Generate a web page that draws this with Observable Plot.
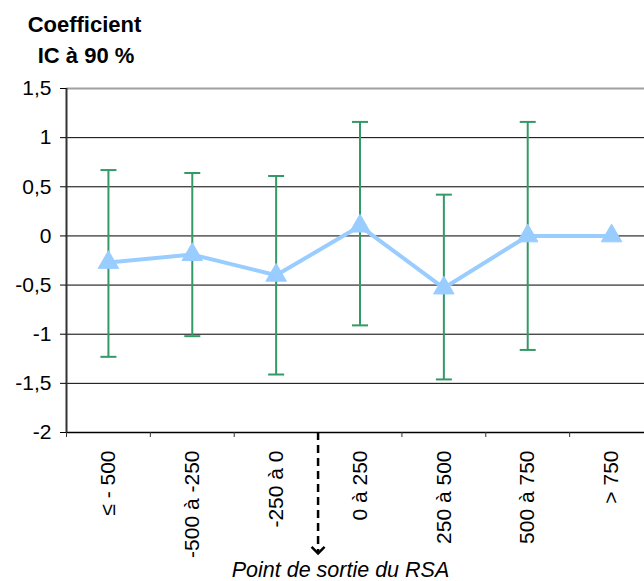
<!DOCTYPE html>
<html>
<head>
<meta charset="utf-8">
<script src="https://cdn.jsdelivr.net/npm/d3@7"></script>
<script src="https://cdn.jsdelivr.net/npm/@observablehq/plot@0.6"></script>
<style>
  html, body { margin: 0; padding: 0; background: #fff; overflow: hidden; }
  #chart { width: 644px; height: 581px; overflow: hidden; }
</style>
</head>
<body>
<div id="chart"></div>
<script>
// ---- data ----
const categories = ["≤ - 500", "-500 à -250", "-250 à 0", "0 à 250", "250 à 500", "500 à 750", "> 750"];
const coef   = [-0.27, -0.19, -0.40, 0.10, -0.53, 0.00, 0.00];
const ciLow  = [-1.23, -1.02, -1.41, -0.91, -1.46, -1.16, 0.00];
const ciHigh = [ 0.67,  0.64,  0.61,  1.16,  0.42,  1.16, 0.00];
const yTicks = [-2, -1.5, -1, -0.5, 0, 0.5, 1, 1.5];
const titleLines = ["Coefficient", "IC à 90 %"];
const caption = "Point de sortie du RSA";
const exitBoundary = 3; // boundary between "-250 à 0" and "0 à 250"
const arrowEnd = -3.23;

// table built from arrays
const data = categories.map((c, i) => ({cat: c, pos: i + 0.5, coef: coef[i], lo: ciLow[i], hi: ciHigh[i]}));
const boundaries = d3.range(categories.length + 1);

const fmt = d => String(d).replace(".", ",");

const capSymbol = {
  draw(ctx, size) { const w = Math.sqrt(size / Math.PI); ctx.moveTo(-w, 0); ctx.lineTo(w, 0); }
};
const chevron = {
  draw(ctx, size) { const w = Math.sqrt(size / Math.PI); ctx.moveTo(-w, -w); ctx.lineTo(0, 0); ctx.lineTo(w, -w); }
};

const font = "'Liberation Sans', Arial, sans-serif";

const chart = Plot.plot({
  width: 644,
  height: 581,
  marginTop: 88,
  marginBottom: 149,
  marginLeft: 66,
  marginRight: 0,
  style: {fontFamily: font, fontSize: "20px", color: "#000", background: "#fff", overflow: "visible"},
  x: {domain: [0, categories.length], range: [66, 653], axis: null},
  y: {domain: [-2, 1.5], axis: null},
  marks: [
    // gridlines
    Plot.ruleY(yTicks.filter(d => d > -2 && d < 1.5), {x1: 0, x2: categories.length, stroke: "#000", strokeWidth: 1}),
    Plot.ruleY([1.5], {x1: 0, x2: categories.length, stroke: "#a0a0a0", strokeWidth: 2}),
    Plot.ruleY([-2], {x1: 0, x2: categories.length, stroke: "#000", strokeWidth: 1.5}),
    // y axis line
    Plot.ruleX([0], {y1: -2, y2: 1.5, stroke: "#333", strokeWidth: 2}),
    // y axis ticks
    Plot.axisY({ticks: yTicks, tickSize: 6, tickFormat: () => "", stroke: "#000", anchor: "left", label: null}),
    // y tick labels
    Plot.text(yTicks, {y: d => d, text: fmt, frameAnchor: "left", dx: -15, textAnchor: "end", lineAnchor: "middle", fontSize: 21, fill: "#000"}),
    // x axis ticks at boundaries
    Plot.axisX({ticks: boundaries, tickSize: 5, tickFormat: () => "", anchor: "bottom", stroke: "#333", label: null}),
    // x labels at category centers
    Plot.text(data, {x: "pos", text: "cat", frameAnchor: "bottom", dy: 18, rotate: -90, textAnchor: "end", lineAnchor: "middle", fontSize: 21, fill: "#000"}),
    // error bars
    Plot.ruleX(data, {x: "pos", y1: "lo", y2: "hi", stroke: "#339966", strokeWidth: 2}),
    Plot.dot(data, {x: "pos", y: "lo", symbol: capSymbol, r: 8, stroke: "#339966", strokeWidth: 2}),
    Plot.dot(data, {x: "pos", y: "hi", symbol: capSymbol, r: 8, stroke: "#339966", strokeWidth: 2}),
    // series line and markers
    Plot.line(data, {x: "pos", y: "coef", stroke: "#99CCFF", strokeWidth: 4}),
    Plot.dot(data, {x: "pos", y: "coef", symbol: "triangle", r: 7.6, fill: "#99CCFF", stroke: "#99CCFF", strokeWidth: 1}),
    // exit-point arrow
    Plot.ruleX([exitBoundary], {y1: -2, y2: arrowEnd, stroke: "#000", strokeWidth: 2.5, strokeDasharray: "8,5"}),
    Plot.dot([exitBoundary], {x: d => d, y: () => arrowEnd, symbol: chevron, r: 6.5, stroke: "#000", strokeWidth: 2.5, fill: "none"}),
    // title
    Plot.text([titleLines[0]], {text: d => d, frameAnchor: "top-left", dx: 18, dy: -57, lineAnchor: "bottom", textAnchor: "middle", fontSize: 22, fontWeight: "bold", fill: "#000"}),
    Plot.text([titleLines[1]], {text: d => d, frameAnchor: "top-left", dx: 19.5, dy: -26, lineAnchor: "bottom", textAnchor: "middle", fontSize: 22, fontWeight: "bold", fill: "#000"}),
    // caption
    Plot.text([caption], {text: d => d, frameAnchor: "bottom-left", dx: 274, dy: 144, lineAnchor: "bottom", textAnchor: "middle", fontSize: 21.5, fontStyle: "italic", fill: "#000"})
  ]
});
document.getElementById("chart").appendChild(chart);
</script>
</body>
</html>
